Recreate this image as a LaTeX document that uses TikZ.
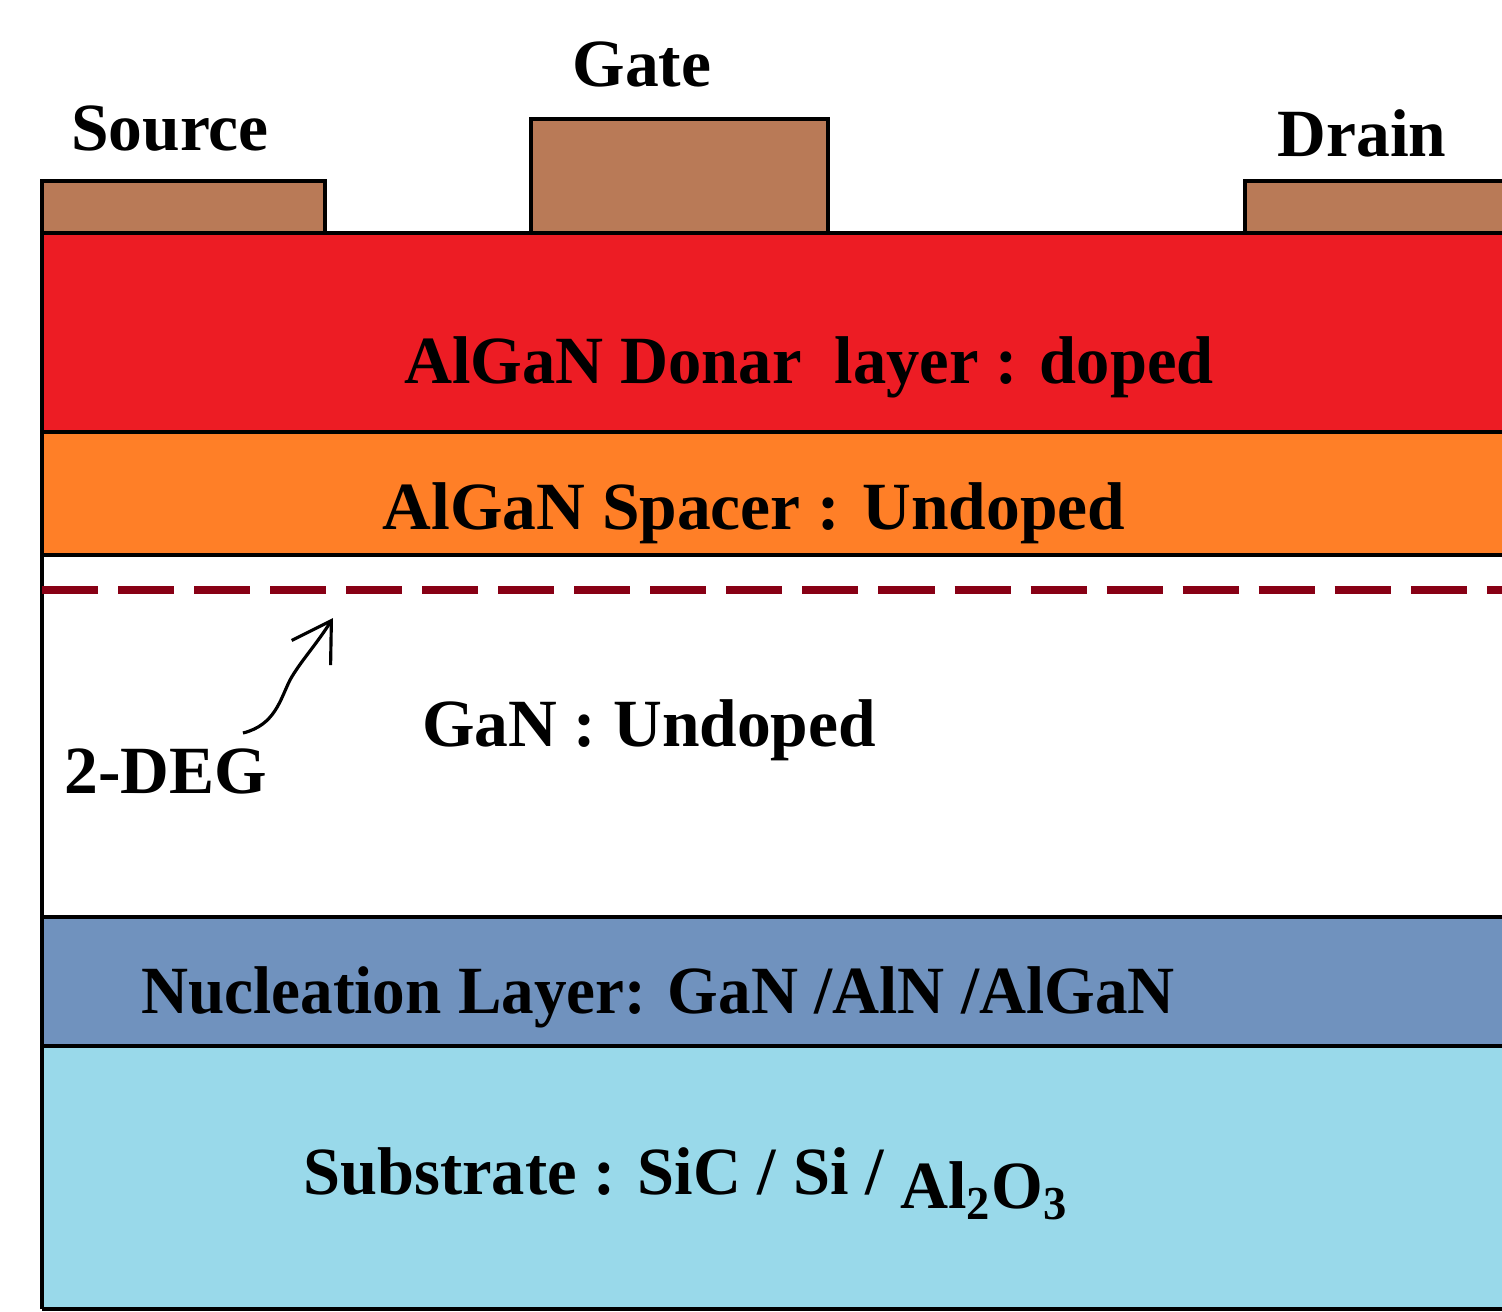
\documentclass[tikz,border=0pt]{standalone}
\usepackage{fontspec}
\setmainfont{Liberation Serif}
\usetikzlibrary{arrows.meta}
\definecolor{donor}{HTML}{ED1C24}
\definecolor{spacer}{HTML}{FF7F27}
\definecolor{nucl}{HTML}{7092BE}
\definecolor{subst}{HTML}{99D9EA}
\definecolor{contact}{HTML}{B97A57}
\definecolor{twodeg}{HTML}{880015}
\begin{document}
\begin{tikzpicture}[x=0.01cm,y=-0.01cm,
  border/.style={line width=1.15pt, line join=miter},
  lbl/.style={font=\fontsize{19.2}{23}\selectfont\bfseries, inner sep=0pt, anchor=center}]
\useasboundingbox[fill=white] (0,0) rectangle (1502,1311);
% layers
\fill[donor]   (42,233)  rectangle (1502,432);
\fill[spacer]  (42,432)  rectangle (1502,555);
\fill[nucl]    (42,917)  rectangle (1502,1046);
\fill[subst]   (42,1046) rectangle (1502,1309);
% contacts
\fill[contact] (42,181)  rectangle (325,233);
\fill[contact] (531,119) rectangle (828,233);
\fill[contact] (1245,181) rectangle (1502,233);
\draw[border] (42,1309) -- (42,181) -- (325,181) -- (325,233);
\draw[border] (531,233) -- (531,119) -- (828,119) -- (828,233);
\draw[border] (1502,181) -- (1245,181) -- (1245,233);
\draw[border] (42,1309) -- (1502,1309);
\foreach \yy in {233,432,555,917,1046} \draw[border] (42,\yy) -- (1502,\yy);
% 2DEG dashed line
\draw[twodeg, line width=2.3pt, dash pattern=on 0.56cm off 0.2cm] (42,590) -- (1502,590);
% labels
\node[lbl] (gate) at (642,64) {Gate};
\node[lbl] (source) at (170,129) {Source};
\node[lbl] (drain) at (1362,133) {Drain};
\node[lbl, xscale=0.985] (donorlbl) at (809,367) {AlGaN Donar \ layer : doped};
\node[lbl] (spacerlbl) at (754,513) {AlGaN Spacer : Undoped};
\node[lbl] (ganlbl) at (649,730) {GaN : Undoped};
\node[lbl] (deglbl) at (166,771) {2-DEG};
\node[lbl, xscale=0.965] (nucllbl) at (658,997) {Nucleation Layer: GaN /AlN /AlGaN};
\node[lbl, xscale=0.985] (subslbl) at (686,1184) {Substrate : SiC / Si / \raisebox{-0.14cm}{Al\textsubscript{2}O\textsubscript{3}}};
% arrow
\coordinate (degstart) at (243,733);
\coordinate (degtip) at (333,618);
\draw[line width=0.9pt, -{Straight Barb[length=0.38cm,width=0.46cm,line width=0.9pt]}]
  (degstart) .. controls (275,725) and (280,700) .. (290,680)
  .. controls (300,662) and (316,645) .. (degtip);
\end{tikzpicture}
\end{document}
